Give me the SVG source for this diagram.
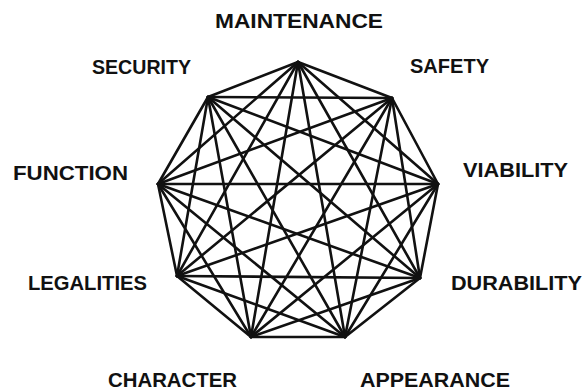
<svg xmlns="http://www.w3.org/2000/svg" width="583" height="391" viewBox="0 0 583 391">
<style>
.bg{fill:#ffffff}
.e{stroke:#111;stroke-width:2.6;stroke-linecap:round;fill:none}
.lbl{font-family:"Liberation Sans",Arial,sans-serif;font-weight:bold;font-size:21px;fill:#111}
</style>
<rect class="bg" x="0" y="0" width="583" height="391"/>
<g id="connectors">
<line class="e" x1="298" y1="62" x2="392" y2="98"/>
<line class="e" x1="298" y1="62" x2="438" y2="184"/>
<line class="e" x1="298" y1="62" x2="420" y2="278"/>
<line class="e" x1="298" y1="62" x2="345" y2="337"/>
<line class="e" x1="298" y1="62" x2="251" y2="337"/>
<line class="e" x1="298" y1="62" x2="177" y2="276"/>
<line class="e" x1="298" y1="62" x2="158" y2="184"/>
<line class="e" x1="298" y1="62" x2="208" y2="97"/>
<line class="e" x1="392" y1="98" x2="438" y2="184"/>
<line class="e" x1="392" y1="98" x2="420" y2="278"/>
<line class="e" x1="392" y1="98" x2="345" y2="337"/>
<line class="e" x1="392" y1="98" x2="251" y2="337"/>
<line class="e" x1="392" y1="98" x2="177" y2="276"/>
<line class="e" x1="392" y1="98" x2="158" y2="184"/>
<line class="e" x1="392" y1="98" x2="208" y2="97"/>
<line class="e" x1="438" y1="184" x2="420" y2="278"/>
<line class="e" x1="438" y1="184" x2="345" y2="337"/>
<line class="e" x1="438" y1="184" x2="251" y2="337"/>
<line class="e" x1="438" y1="184" x2="177" y2="276"/>
<line class="e" x1="438" y1="184" x2="158" y2="184"/>
<line class="e" x1="438" y1="184" x2="208" y2="97"/>
<line class="e" x1="420" y1="278" x2="345" y2="337"/>
<line class="e" x1="420" y1="278" x2="251" y2="337"/>
<line class="e" x1="420" y1="278" x2="177" y2="276"/>
<line class="e" x1="420" y1="278" x2="158" y2="184"/>
<line class="e" x1="420" y1="278" x2="208" y2="97"/>
<line class="e" x1="345" y1="337" x2="251" y2="337"/>
<line class="e" x1="345" y1="337" x2="177" y2="276"/>
<line class="e" x1="345" y1="337" x2="158" y2="184"/>
<line class="e" x1="345" y1="337" x2="208" y2="97"/>
<line class="e" x1="251" y1="337" x2="177" y2="276"/>
<line class="e" x1="251" y1="337" x2="158" y2="184"/>
<line class="e" x1="251" y1="337" x2="208" y2="97"/>
<line class="e" x1="177" y1="276" x2="158" y2="184"/>
<line class="e" x1="177" y1="276" x2="208" y2="97"/>
<line class="e" x1="158" y1="184" x2="208" y2="97"/>
</g>
<g id="node-maintenance"><text class="lbl" x="215" y="28" textLength="168" lengthAdjust="spacingAndGlyphs">MAINTENANCE</text></g>
<g id="node-safety"><text class="lbl" x="410" y="73" textLength="79" lengthAdjust="spacingAndGlyphs">SAFETY</text></g>
<g id="node-viability"><text class="lbl" x="463" y="177" textLength="105" lengthAdjust="spacingAndGlyphs">VIABILITY</text></g>
<g id="node-durability"><text class="lbl" x="451" y="290" textLength="131" lengthAdjust="spacingAndGlyphs">DURABILITY</text></g>
<g id="node-appearance"><text class="lbl" x="360" y="387" textLength="150" lengthAdjust="spacingAndGlyphs">APPEARANCE</text></g>
<g id="node-character"><text class="lbl" x="108" y="387" textLength="129" lengthAdjust="spacingAndGlyphs">CHARACTER</text></g>
<g id="node-legalities"><text class="lbl" x="28" y="290" textLength="119" lengthAdjust="spacingAndGlyphs">LEGALITIES</text></g>
<g id="node-function"><text class="lbl" x="13" y="180" textLength="115" lengthAdjust="spacingAndGlyphs">FUNCTION</text></g>
<g id="node-security"><text class="lbl" x="92" y="74" textLength="99" lengthAdjust="spacingAndGlyphs">SECURITY</text></g>
</svg>
